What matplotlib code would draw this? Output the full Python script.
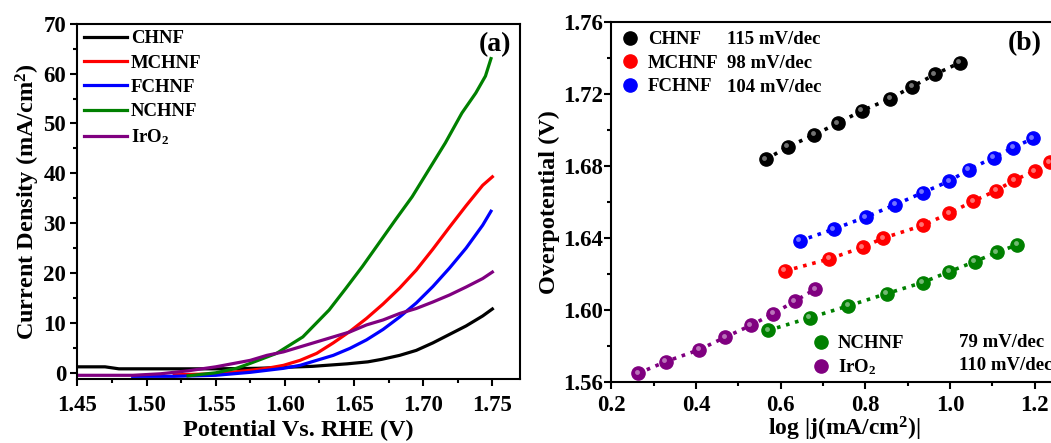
"""
LSV curves (a) and Tafel plots (b) for the CHNF catalysts vs IrO2.
"""

import matplotlib
matplotlib.use("Agg")
import matplotlib.pyplot as plt
from matplotlib.ticker import MultipleLocator
from matplotlib.transforms import offset_copy

plt.rcParams["font.family"] = "Liberation Serif"
plt.rcParams["font.weight"] = "bold"
plt.rcParams["axes.labelweight"] = "bold"
plt.rcParams["mathtext.fontset"] = "custom"
plt.rcParams["mathtext.rm"] = "Liberation Serif:bold"
plt.rcParams["mathtext.bf"] = "Liberation Serif:bold"
plt.rcParams["mathtext.it"] = "Liberation Serif:bold:italic"

names = ["CHNF", "MCHNF", "FCHNF", "NCHNF", "IrO$_2$"]
colors = ["black", "red", "blue", "green", "purple"]
slopes = ["115 mV/dec", "98 mV/dec", "104 mV/dec", "79 mV/dec", "110 mV/dec"]

# (a) LSV: potential (V vs RHE) and current density (mA/cm2)
chnf_v = [1.450, 1.470, 1.480, 1.500, 1.550, 1.580, 1.600, 1.620, 1.645, 1.660, 1.670, 1.683,
          1.695, 1.707, 1.719, 1.731, 1.743, 1.750]
chnf_j = [1.2, 1.2, 0.8, 0.8, 0.8, 0.9, 1.1, 1.3, 1.8, 2.2, 2.7, 3.5, 4.5, 6.0, 7.7, 9.4, 11.4, 12.8]

mchnf_v = [1.520, 1.550, 1.575, 1.587, 1.599, 1.611, 1.623, 1.635, 1.647, 1.659, 1.671, 1.683,
           1.695, 1.707, 1.719, 1.731, 1.743, 1.750]
mchnf_j = [-0.4, -0.2, 0.5, 0.9, 1.5, 2.5, 3.9, 6.0, 8.3, 10.9, 13.8, 17.0, 20.6, 24.8, 29.2,
           33.5, 37.6, 39.3]

fchnf_v = [1.490, 1.520, 1.550, 1.575, 1.599, 1.611, 1.623, 1.635, 1.647, 1.659, 1.671, 1.683,
           1.695, 1.707, 1.719, 1.731, 1.743, 1.749]
fchnf_j = [-0.7, -0.7, -0.5, 0.1, 0.9, 1.5, 2.5, 3.5, 4.9, 6.6, 8.7, 11.2, 14.0, 17.3, 21.0,
           25.0, 29.6, 32.4]

nchnf_v = [1.530, 1.550, 1.565, 1.575, 1.594, 1.613, 1.632, 1.644, 1.656, 1.668, 1.680, 1.692,
           1.704, 1.716, 1.728, 1.738, 1.745, 1.749]
nchnf_j = [-0.6, 0.0, 0.9, 1.9, 3.9, 7.2, 12.6, 16.9, 21.3, 26.0, 30.7, 35.3, 40.7, 46.1, 52.1,
           56.1, 59.5, 63.0]

iro2_v = [1.450, 1.490, 1.510, 1.530, 1.550, 1.575, 1.587, 1.599, 1.611, 1.623, 1.635, 1.647,
          1.659, 1.671, 1.683, 1.695, 1.707, 1.719, 1.731, 1.743, 1.750]
iro2_j = [-0.5, -0.5, -0.2, 0.4, 1.2, 2.5, 3.5, 4.2, 5.2, 6.2, 7.2, 8.2, 9.6, 10.6, 11.9, 12.9,
          14.2, 15.6, 17.2, 18.9, 20.2]

# (b) Tafel: log|j| and potential (V)
chnf_x = [0.565, 0.616, 0.679, 0.735, 0.792, 0.859, 0.911, 0.964, 1.023]
chnf_y = [1.6837, 1.6906, 1.6973, 1.7038, 1.7107, 1.7174, 1.7241, 1.7308, 1.7373]
mchnf_x = [0.610, 0.715, 0.794, 0.842, 0.936, 0.998, 1.055, 1.109, 1.152, 1.200, 1.236]
mchnf_y = [1.6218, 1.6285, 1.6350, 1.6400, 1.6471, 1.6538, 1.6605, 1.6664, 1.6722, 1.6772, 1.6822]
fchnf_x = [0.645, 0.725, 0.801, 0.871, 0.936, 0.998, 1.044, 1.103, 1.149, 1.196]
fchnf_y = [1.6385, 1.6450, 1.6517, 1.6586, 1.6653, 1.6716, 1.6780, 1.6847, 1.6902, 1.6953]
nchnf_x = [0.570, 0.669, 0.759, 0.851, 0.935, 0.998, 1.059, 1.111, 1.159]
nchnf_y = [1.5888, 1.5959, 1.6024, 1.6093, 1.6154, 1.6214, 1.6270, 1.6322, 1.6363]
iro2_x = [0.263, 0.328, 0.408, 0.469, 0.529, 0.582, 0.633, 0.681]
iro2_y = [1.5650, 1.5715, 1.5782, 1.5851, 1.5916, 1.5981, 1.6050, 1.6117]

lsv = [(chnf_v, chnf_j), (mchnf_v, mchnf_j), (fchnf_v, fchnf_j), (nchnf_v, nchnf_j), (iro2_v, iro2_j)]
tafel = [(chnf_x, chnf_y), (mchnf_x, mchnf_y), (fchnf_x, fchnf_y), (nchnf_x, nchnf_y), (iro2_x, iro2_y)]

fig = plt.figure(figsize=(10.51, 4.43), dpi=100)
ax1 = fig.add_axes([0.0736, 0.1438, 0.4212, 0.8027])
ax2 = fig.add_axes([0.5818, 0.1368, 0.4429, 0.8140])

TICK_FS = 16.5
LABEL_FS = 17.5
LEG_FS = 13.5


def style_axes(ax):
    for sp in ax.spines.values():
        sp.set_linewidth(1.5)
    ax.tick_params(which="both", direction="out", width=1.5, top=False, right=False,
                   labelsize=TICK_FS)
    ax.tick_params(which="major", length=5)
    ax.tick_params(which="minor", length=3)


# ---- (a) LSV ----
for (v, j), name, c in zip(lsv, names, colors):
    ax1.plot(v, j, color=c, lw=2.3, label=name)
ax1.set_xlim(1.45, 1.77)
ax1.set_ylim(-1.3, 70)
ax1.xaxis.set_major_locator(MultipleLocator(0.05))
ax1.xaxis.set_minor_locator(MultipleLocator(0.025))
ax1.yaxis.set_major_locator(MultipleLocator(10))
ax1.yaxis.set_minor_locator(MultipleLocator(5))
style_axes(ax1)
ax1.tick_params(axis="x", pad=6)
ax1.tick_params(axis="y", pad=3)
ax1.set_xlabel("Potential Vs. RHE (V)", fontsize=LABEL_FS, labelpad=3)
ax1.set_ylabel("Current Density (mA/cm$^2$)", fontsize=LABEL_FS, labelpad=1)
ax1.legend(loc="upper left", frameon=False, fontsize=LEG_FS, handlelength=2.3,
           handletextpad=0.2, labelspacing=0.38, borderaxespad=0.15, borderpad=0.2)
ax1.text(0.981, 0.94, "(a)", transform=ax1.transAxes, ha="right", va="center", fontsize=20)

# ---- (b) Tafel ----
hl = offset_copy(ax2.transData, fig=fig, x=-1.5, y=1.5, units="dots")
handles = []
for (x, y), name, c in zip(tafel, names, colors):
    ax2.plot(x, y, color=c, lw=2.6, ls=(0, (1, 1.6)), zorder=2)
    h, = ax2.plot(x, y, ls="none", marker="o", ms=9.5, color=c, mec=c, zorder=3, label=name)
    ax2.plot(x, y, ls="none", marker="o", ms=3.5, color="white", alpha=0.45, mew=0,
             transform=hl, zorder=4)
    handles.append(h)

ax2.set_xlim(0.2, 1.3)
ax2.set_ylim(1.56, 1.76)
ax2.xaxis.set_major_locator(MultipleLocator(0.2))
ax2.xaxis.set_minor_locator(MultipleLocator(0.1))
ax2.yaxis.set_major_locator(MultipleLocator(0.04))
ax2.yaxis.set_minor_locator(MultipleLocator(0.02))
ax2.yaxis.set_major_formatter(plt.FormatStrFormatter("%.2f"))
ax2.xaxis.set_major_formatter(plt.FormatStrFormatter("%.1f"))
style_axes(ax2)
ax2.tick_params(axis="x", pad=4)
ax2.tick_params(axis="y", pad=1)
ax2.set_xlabel("log |j(mA/cm$^2$)|", fontsize=17, labelpad=-1)
ax2.set_ylabel("Overpotential (V)", fontsize=LABEL_FS, labelpad=2)

leg_top = ax2.legend(handles=handles[:3], loc="upper left", frameon=False, fontsize=LEG_FS,
                     handlelength=1.0, handletextpad=0.45, labelspacing=0.34,
                     borderaxespad=0.3, borderpad=0.2)
ax2.add_artist(leg_top)
ax2.legend(handles=handles[3:], loc="lower left", bbox_to_anchor=(0.418, 0.0), frameon=False,
           fontsize=LEG_FS, handlelength=1.0, handletextpad=0.4, labelspacing=0.25,
           borderaxespad=0.1, borderpad=0.2)

slope_x = [0.248, 0.248, 0.248, 0.746, 0.746]
slope_y = [0.952, 0.885, 0.819, 0.112, 0.048]
for s, sx, sy in zip(slopes, slope_x, slope_y):
    ax2.text(sx, sy, s, transform=ax2.transAxes, ha="left", va="center", fontsize=LEG_FS)
ax2.text(0.888, 0.94, "(b)", transform=ax2.transAxes, ha="center", va="center", fontsize=20)

fig.savefig("out.png", dpi=100)
